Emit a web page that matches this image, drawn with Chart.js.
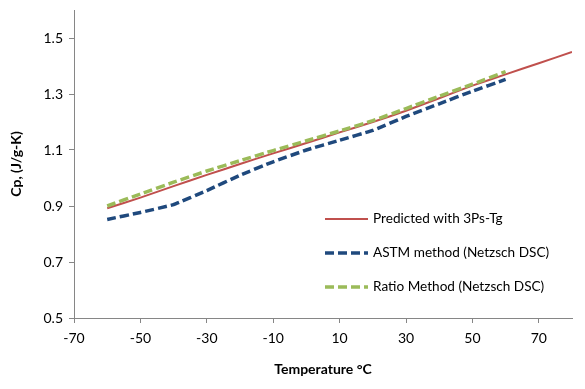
<!DOCTYPE html>
<html>
<head>
<meta charset="utf-8">
<script src="https://cdn.jsdelivr.net/npm/chart.js"></script>
<style>
  html, body { margin: 0; padding: 0; background: #fff; }
  #wrap { width: 585px; height: 389px; position: relative; }
</style>
</head>
<body>
<div id="wrap"><canvas id="chart"></canvas></div>
<script>
const predTemps = [-60, -50, -40, -30, -20, -10, 0, 10, 20, 30, 40, 50, 60, 70, 80];
const predCp = [0.892, 0.93, 0.971, 1.011, 1.05, 1.088, 1.125, 1.163, 1.2, 1.24, 1.285, 1.33, 1.37, 1.41, 1.45];

const dscTemps = [-60, -50, -40, -30, -20, -10, 0, 10, 20, 30, 40, 50, 60];
const astmCp = [0.852, 0.877, 0.905, 0.955, 1.01, 1.058, 1.1, 1.135, 1.17, 1.22, 1.265, 1.31, 1.352];
const ratioCp = [0.9, 0.943, 0.985, 1.025, 1.062, 1.098, 1.133, 1.168, 1.205, 1.248, 1.292, 1.335, 1.38];

const xTicks = [-70, -50, -30, -10, 10, 30, 50, 70];
const yTicks = [0.5, 0.7, 0.9, 1.1, 1.3, 1.5];

const seriesNames = ["Predicted with 3Ps-Tg", "ASTM method (Netzsch DSC)", "Ratio Method (Netzsch DSC)"];

const toPoints = (xs, ys) => xs.map((x, i) => ({ x: x, y: ys[i] }));

const FONT = "Lato";
const axisColor = "#868686";

// legend drawn inside the plot, like the original
const insideLegend = {
  id: "insideLegend",
  afterDraw(chart) {
    const ctx = chart.ctx;
    const rows = [219, 253, 287];
    ctx.save();
    chart.data.datasets.forEach((ds, i) => {
      const y = rows[i];
      ctx.beginPath();
      ctx.strokeStyle = ds.borderColor;
      ctx.lineWidth = ds.borderWidth;
      ctx.setLineDash(ds.borderDash || []);
      ctx.moveTo(325, y);
      ctx.lineTo(368, y);
      ctx.stroke();
      ctx.setLineDash([]);
      ctx.fillStyle = "#000";
      ctx.font = "13.6px " + FONT;
      ctx.textBaseline = "middle";
      ctx.fillText(ds.label, 373, y);
    });
    ctx.restore();
  },
};

new Chart(document.getElementById("chart"), {
  type: "line",
  data: {
    datasets: [
      {
        label: seriesNames[0],
        data: toPoints(predTemps, predCp),
        borderColor: "#C0504D",
        borderWidth: 2,
        pointRadius: 0,
        tension: 0.1,
        order: 3,
      },
      {
        label: seriesNames[1],
        data: toPoints(dscTemps, astmCp),
        borderColor: "#1F497D",
        borderWidth: 3.5,
        borderDash: [9, 4],
        pointRadius: 0,
        tension: 0.1,
        order: 2,
      },
      {
        label: seriesNames[2],
        data: toPoints(dscTemps, ratioCp),
        borderColor: "#9BBB59",
        borderWidth: 3.5,
        borderDash: [9, 4],
        pointRadius: 0,
        tension: 0.1,
        order: 1,
      },
    ],
  },
  options: {
    responsive: true,
    maintainAspectRatio: false,
    animation: false,
    layout: { padding: { top: 10, right: 13, left: 0, bottom: 0 } },
    plugins: {
      legend: { display: false },
      tooltip: { enabled: false },
    },
    scales: {
      x: {
        type: "linear",
        min: -70,
        max: 80,
        afterBuildTicks: (scale) => {
          scale.ticks = xTicks.map((v) => ({ value: v }));
        },
        afterFit: (scale) => {
          scale.height = 71;
          scale.paddingRight = 0;
        },
        ticks: {
          color: "#000",
          font: { family: FONT, size: 14 },
          padding: 7,
          maxRotation: 0,
        },
        grid: { drawOnChartArea: false, drawTicks: true, tickLength: 5, color: axisColor },
        border: { color: axisColor },
        title: {
          display: true,
          text: "Temperature \u00B0C",
          color: "#000",
          font: { family: FONT, size: 14, weight: "bold" },
          padding: { top: 11, bottom: 11 },
        },
      },
      y: {
        min: 0.5,
        max: 1.6,
        afterBuildTicks: (scale) => {
          scale.ticks = yTicks.map((v) => ({ value: v }));
        },
        afterFit: (scale) => {
          scale.width = 74;
          scale.paddingTop = 0;
        },
        ticks: {
          color: "#000",
          font: { family: FONT, size: 14 },
          padding: 6,
          callback: (v) => Number(v).toFixed(1),
        },
        grid: { drawOnChartArea: false, drawTicks: true, tickLength: 5, color: axisColor },
        border: { color: axisColor },
        title: {
          display: true,
          text: "Cp, (J/g-K)",
          color: "#000",
          font: { family: FONT, size: 14, weight: "bold" },
          padding: { top: 8, bottom: 8 },
        },
      },
    },
  },
  plugins: [insideLegend],
});
</script>
</body>
</html>
